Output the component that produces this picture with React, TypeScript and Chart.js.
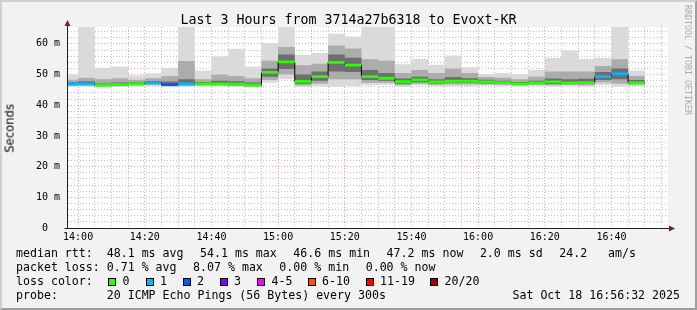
import { useEffect, useRef } from "react";
import { Chart, registerables } from "chart.js";

Chart.register(...registerables);

// ---- data ----
const slotTimes = [
  "13:55", "14:00", "14:05", "14:10", "14:15", "14:20", "14:25", "14:30", "14:35",
  "14:40", "14:45", "14:50", "14:55", "15:00", "15:05", "15:10", "15:15", "15:20",
  "15:25", "15:30", "15:35", "15:40", "15:45", "15:50", "15:55", "16:00", "16:05",
  "16:10", "16:15", "16:20", "16:25", "16:30", "16:35", "16:40", "16:45", "16:50",
];
// per 5-minute slot, in ms
const rttMin = [46.0, 46.0, 45.8, 46.0, 46.2, 46.3, 45.9, 46.0, 46.2, 46.2, 46.0, 45.9, 47.3, 48.5, 45.9, 46.2, 46.0, 46.2, 46.5, 46.7, 46.0, 46.5, 46.2, 46.3, 46.3, 46.4, 46.3, 46.2, 46.2, 46.0, 46.2, 46.0, 46.6, 46.0, 46.3];
const rttP10 = [46.3, 46.4, 46.1, 46.2, 46.5, 46.6, 46.2, 46.3, 46.5, 46.5, 46.3, 46.1, 48.2, 50.0, 46.4, 47.0, 48.5, 48.5, 47.3, 47.3, 46.5, 47.0, 46.7, 46.8, 46.8, 46.8, 46.7, 46.5, 46.6, 46.5, 46.6, 46.5, 47.4, 47.0, 46.7];
const rttP25 = [46.6, 46.7, 46.3, 46.4, 46.7, 46.9, 46.4, 46.6, 46.7, 46.7, 46.5, 46.3, 49.3, 51.8, 47.0, 48.0, 51.0, 50.8, 48.2, 48.0, 47.0, 47.5, 47.1, 47.3, 47.3, 47.1, 47.0, 46.7, 46.9, 46.9, 46.9, 46.9, 48.2, 48.5, 47.0];
const rttMedian = [47.0, 47.0, 46.6, 46.7, 47.0, 47.3, 46.7, 47.0, 47.0, 47.0, 46.85, 46.6, 50.7, 54.1, 47.8, 49.3, 54.0, 53.1, 49.3, 48.8, 47.7, 48.3, 47.6, 47.9, 47.9, 47.6, 47.4, 47.0, 47.3, 47.6, 47.3, 47.4, 49.3, 50.2, 47.3];
const rttP75 = [47.6, 47.8, 47.2, 47.4, 47.5, 47.9, 47.7, 48.5, 47.6, 48.0, 47.8, 47.4, 52.0, 56.5, 50.0, 51.0, 56.5, 55.5, 51.5, 50.5, 48.7, 49.3, 48.5, 49.2, 48.8, 48.3, 48.0, 47.6, 48.0, 48.7, 48.5, 48.6, 50.8, 52.0, 48.2];
const rttP90 = [48.3, 49.0, 48.5, 48.8, 48.3, 48.8, 49.5, 54.4, 48.5, 50.0, 49.5, 48.8, 54.5, 59.0, 53.0, 53.5, 59.5, 58.5, 55.0, 54.5, 50.5, 51.5, 50.5, 52.0, 50.5, 49.2, 49.0, 48.5, 49.3, 51.0, 51.0, 51.0, 52.8, 55.0, 49.5];
const rttMax = [50.0, 66.0, 52.2, 52.6, 49.7, 50.4, 52.2, 66.0, 51.3, 55.9, 58.4, 52.6, 60.3, 66.0, 56.4, 57.0, 63.3, 62.4, 66.0, 66.0, 53.4, 55.1, 53.2, 56.2, 52.4, 50.2, 50.5, 50.0, 51.5, 55.4, 57.8, 55.1, 55.4, 66.0, 51.3];
const lossCounts = [1, 1, 0, 0, 0, 1, 2, 1, 0, 0, 0, 0, 0, 0, 0, 0, 0, 0, 0, 0, 0, 0, 0, 0, 0, 0, 0, 0, 0, 0, 0, 0, 1, 1, 0];

const xTickLabels = ["14:00", "14:20", "14:40", "15:00", "15:20", "15:40", "16:00", "16:20", "16:40"];
const yTickLabels = ["0  ", "10 m", "20 m", "30 m", "40 m", "50 m", "60 m"];

const lossLabels = ["0", "1", "2", "3", "4-5", "6-10", "11-19", "20/20"];
const lossColors = ["#26ff00", "#00b8ff", "#0059ff", "#7e00ff", "#ff00ff", "#ff5500", "#ff0000", "#a10000"];

const titleText = "Last 3 Hours from 3714a27b6318 to Evoxt-KR";
const rttStats = ["48.1 ms avg", "54.1 ms max", "46.6 ms min", "47.2 ms now", "2.0 ms sd", "24.2   am/s"];
const lossStats = ["0.71 % avg", "8.07 % max", "0.00 % min", "0.00 % now"];
const probeText = "20 ICMP Echo Pings (56 Bytes) every 300s";
const stampText = "Sat Oct 18 16:56:32 2025";

// ---- helpers ----
const toMin = (t: string) => {
  const [h, m] = t.split(":").map(Number);
  return h * 60 + m - 14 * 60;
};
const xs = slotTimes.map(toMin);
const pts = (vals: number[]) => xs.map((x, i) => ({ x, y: vals[Math.min(i, vals.length - 1)] }));
const lossColorFor = (n: number) => {
  if (n <= 3) return lossColors[n];
  if (n <= 5) return lossColors[4];
  if (n <= 10) return lossColors[5];
  if (n <= 19) return lossColors[6];
  return lossColors[7];
};

const MONO = '"DejaVu Sans Mono", monospace';
const boxLefts = [108, 145.5, 182.5, 219.5, 257, 307.5, 365.5, 430];
const MAJOR = "rgba(222,79,79,0.5)";
const MINOR = "rgba(143,143,143,0.55)";

const axesPlugin = {
  id: "rrdAxes",
  beforeDraw(chart: any) {
    const { ctx, chartArea: a } = chart;
    ctx.save();
    ctx.fillStyle = "#ffffff";
    ctx.fillRect(a.left, a.top, a.right - a.left + 1, a.bottom - a.top);
    ctx.restore();
  },
  afterDraw(chart: any) {
    const { ctx, chartArea: a } = chart;
    const x0 = Math.round(a.left) + 0.5;
    const y0 = Math.round(a.bottom) + 0.5;
    ctx.save();
    ctx.strokeStyle = "#1f1f1f";
    ctx.lineWidth = 1;
    ctx.beginPath();
    ctx.moveTo(x0, y0);
    ctx.lineTo(x0, a.top - 1);
    ctx.moveTo(x0 - 3, y0);
    ctx.lineTo(a.right + 2, y0);
    ctx.stroke();
    ctx.fillStyle = "#801f1f";
    ctx.beginPath();
    ctx.moveTo(x0, a.top - 7);
    ctx.lineTo(x0 - 3, a.top - 1);
    ctx.lineTo(x0 + 3, a.top - 1);
    ctx.closePath();
    ctx.fill();
    ctx.beginPath();
    ctx.moveTo(a.right + 8, y0);
    ctx.lineTo(a.right + 2, y0 - 3);
    ctx.lineTo(a.right + 2, y0 + 3);
    ctx.closePath();
    ctx.fill();
    ctx.restore();
  },
};

export default function App() {
  const ref = useRef<HTMLCanvasElement>(null);

  useEffect(() => {
    document.body.style.margin = "0";
    const base = {
      stepped: "before" as const,
      pointRadius: 0,
      borderWidth: 1,
      borderColor: "rgba(0,0,0,0)",
      tension: 0,
    };
    const chart = new Chart(ref.current as HTMLCanvasElement, {
      type: "line",
      data: {
        datasets: [
          { ...base, data: pts(rttMin), fill: false, order: 30 },
          { ...base, data: pts(rttMax), fill: "-1", backgroundColor: "#dadada", order: 30 },
          { ...base, data: pts(rttP10), fill: false, order: 20 },
          { ...base, data: pts(rttP90), fill: "-1", backgroundColor: "#acacac", order: 20 },
          { ...base, data: pts(rttP25), fill: false, order: 10 },
          { ...base, data: pts(rttP75), fill: "-1", backgroundColor: "#6e6e6e", order: 10 },
          { ...base, data: pts(rttMedian), borderColor: "#000000", fill: false, order: 5 },
          { ...base, data: pts(rttMedian.map((v) => v - 0.45)), fill: false, order: 0 },
          {
            ...base,
            data: pts(rttMedian.map((v) => v + 0.45)),
            fill: "-1",
            backgroundColor: lossColors[0],
            segment: { backgroundColor: (c: any) => lossColorFor(lossCounts[c.p0DataIndex]) },
            order: 0,
          },
        ] as any,
      },
      options: {
        animation: false,
        responsive: false,
        maintainAspectRatio: false,
        events: [],
        layout: { padding: { top: 27, right: 30, left: 0, bottom: 0 } },
        plugins: {
          legend: { display: false },
          tooltip: { enabled: false },
          title: { display: false },
        },
        scales: {
          x: {
            type: "linear",
            min: -10 / 3,
            max: 530 / 3,
            z: 1,
            afterFit: (s: any) => {
              s.height = 82;
            },
            afterBuildTicks: (s: any) => {
              const t = [];
              for (let v = 0; v <= 175; v += 5) t.push({ value: v });
              s.ticks = t;
            },
            ticks: {
              autoSkip: false,
              maxRotation: 0,
              padding: 3,
              color: "#000000",
              font: { family: "DejaVu Sans Mono", size: 10 },
              callback: (v: any) => {
                const n = Number(v);
                return n % 20 === 0 ? xTickLabels[n / 20] ?? "" : "";
              },
            },
            grid: {
              drawTicks: false,
              lineWidth: 1,
              color: (c: any) => (c.tick && c.tick.value % 20 === 0 ? MAJOR : MINOR),
            },
            border: { display: true, color: "#1f1f1f", dash: [1, 2] },
          },
          y: {
            type: "linear",
            min: 0,
            max: 65.5,
            z: 1,
            afterFit: (s: any) => {
              s.width = 67;
            },
            afterBuildTicks: (s: any) => {
              const t = [];
              for (let v = 0; v <= 64; v += 2) t.push({ value: v });
              s.ticks = t;
            },
            ticks: {
              autoSkip: false,
              padding: 7,
              color: "#000000",
              font: { family: "DejaVu Sans Mono", size: 10 },
              callback: (v: any) => {
                const n = Number(v);
                return n % 10 === 0 ? yTickLabels[n / 10] ?? "" : "";
              },
            },
            grid: {
              drawTicks: false,
              lineWidth: 1,
              color: (c: any) => (c.tick && c.tick.value % 10 === 0 ? MAJOR : MINOR),
            },
            border: { display: true, color: "#1f1f1f", dash: [1, 2] },
          },
        },
      } as any,
      plugins: [axesPlugin],
    });
    return () => chart.destroy();
  }, []);

  const row = (top: number): React.CSSProperties => ({
    position: "absolute",
    left: 16,
    top,
    display: "flex",
    gap: "16.5px",
    whiteSpace: "pre",
    fontFamily: MONO,
    fontSize: "11.6px",
    lineHeight: "11.6px",
    color: "#000",
  });

  return (
    <div
      style={{
        position: "relative",
        width: 697,
        height: 310,
        background: "#f2f2f2",
        overflow: "hidden",
      }}
    >
      <canvas
        ref={ref}
        width={697}
        height={310}
        style={{ position: "absolute", left: 0, top: 0, width: 697, height: 310 }}
      />
      <div
        style={{
          position: "absolute",
          left: 0,
          top: 12.75,
          width: 697,
          textAlign: "center",
          fontFamily: MONO,
          fontSize: "13.3px",
          lineHeight: "13.3px",
          whiteSpace: "pre",
          color: "#000",
        }}
      >
        {titleText}
      </div>
      <div
        style={{
          position: "absolute",
          left: 4.5,
          top: 104,
          writingMode: "vertical-rl",
          transform: "rotate(180deg)",
          fontFamily: '"DejaVu Sans", sans-serif',
          fontSize: "11.6px",
          lineHeight: "11.6px",
          color: "#000",
        }}
      >
        Seconds
      </div>
      <div
        style={{
          position: "absolute",
          left: 683.7,
          top: 5,
          writingMode: "vertical-rl",
          fontFamily: MONO,
          fontSize: "8.3px",
          lineHeight: "8.3px",
          whiteSpace: "pre",
          color: "#ababab",
        }}
      >
        RRDTOOL / TOBI OETIKER
      </div>

      <div style={row(247.5)}>
        <span>{"median rtt:  " + rttStats[0]}</span>
        {rttStats.slice(1).map((s) => (
          <span key={s}>{s}</span>
        ))}
      </div>
      <div style={row(261.9)}>
        <span>{"packet loss: " + lossStats[0]}</span>
        {lossStats.slice(1).map((s, i) => (
          <span key={i}>{s}</span>
        ))}
      </div>
      <div style={row(275.9)}>
        <span>loss color:</span>
      </div>
      {lossLabels.map((lab, i) => (
        <div key={lab}>
          <div
            style={{
              position: "absolute",
              left: boxLefts[i],
              top: 278,
              width: 8,
              height: 8,
              boxSizing: "border-box",
              border: "1px solid #000",
              background: lossColors[i],
            }}
          />
          <div
            style={{
              position: "absolute",
              left: boxLefts[i] + 14.5,
              top: 275.9,
              fontFamily: MONO,
              fontSize: "11.6px",
              lineHeight: "11.6px",
              whiteSpace: "pre",
              color: "#000",
            }}
          >
            {lab}
          </div>
        </div>
      ))}
      <div style={row(290.2)}>
        <span>{"probe:       " + probeText}</span>
      </div>
      <div
        style={{
          position: "absolute",
          right: 17,
          top: 290.2,
          fontFamily: MONO,
          fontSize: "11.6px",
          lineHeight: "11.6px",
          whiteSpace: "pre",
          color: "#000",
        }}
      >
        {stampText}
      </div>

      <div
        style={{
          position: "absolute",
          inset: 0,
          boxSizing: "border-box",
          borderTop: "2px solid #cfcfcf",
          borderLeft: "2px solid #cfcfcf",
          borderRight: "2px solid #9e9e9e",
          borderBottom: "2px solid #9e9e9e",
          pointerEvents: "none",
        }}
      />
    </div>
  );
}
